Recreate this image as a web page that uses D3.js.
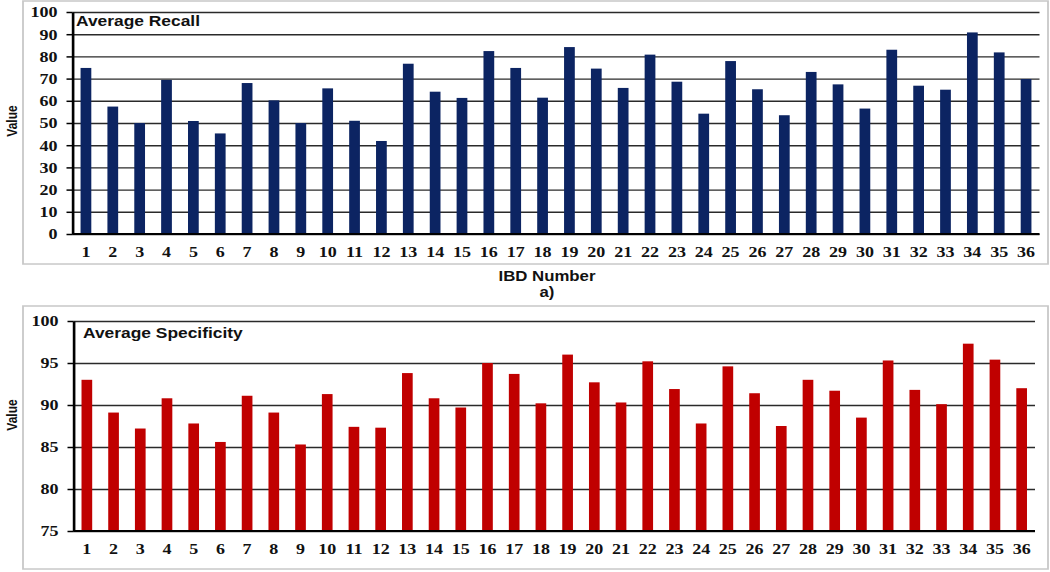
<!DOCTYPE html>
<html><head><meta charset="utf-8">
<script src="https://cdn.jsdelivr.net/npm/d3@7/dist/d3.min.js"></script>
<style>body{margin:0;background:#fff}svg{display:block}</style>
</head><body><svg id="c" width="1050" height="572"></svg>
<script>
// ---- data ----
const ibdNumbers = ["1","2","3","4","5","6","7","8","9","10","11","12","13","14","15","16","17","18",
  "19","20","21","22","23","24","25","26","27","28","29","30","31","32","33","34","35","36"];
const averageRecall = [74.8,57.4,50,69.4,50.9,45.3,68,60.2,50,65.6,51,41.9,76.7,64.1,61.3,82.4,74.8,61.4,
  84.2,74.5,65.8,80.8,68.6,54.2,77.9,65.2,53.5,73,67.4,56.5,83,66.8,65,90.8,81.8,69.8];
const averageSpecificity = [93.0,89.1,87.2,90.8,87.8,85.6,91.1,89.1,85.3,91.3,87.4,87.3,93.8,90.8,89.7,95.0,93.7,90.2,
  96.0,92.7,90.3,95.2,91.9,87.8,94.6,91.4,87.5,93.0,91.7,88.5,95.3,91.8,90.1,97.3,95.4,92.0];
const recallTicks = [0,10,20,30,40,50,60,70,80,90,100];
const specificityTicks = [75,80,85,90,95,100];

// ---- drawing ----
const SX = 1.2; // horizontal stretch of the original picture
const ix = v => v / SX;
const svg = d3.select("#c");
const g = svg.append("g").attr("transform", `scale(${SX},1)`);

function panel(o) {
  const p = g.append("g");
  // outer box
  p.append("rect").attr("x", ix(o.box[0])).attr("y", o.box[1])
    .attr("width", ix(o.box[2]-o.box[0])).attr("height", o.box[3]-o.box[1])
    .attr("fill", "#fff").attr("stroke", "#c8c8c8").attr("stroke-width", 1.5);

  const x = d3.scaleBand().domain(ibdNumbers).range([ix(o.x0), ix(o.x1)])
    .paddingInner(0.6).paddingOuter(0.3);
  const y = d3.scaleLinear().domain(o.domain).range([o.yb, o.yt]);
  const w = ix(o.x1) - ix(o.x0);

  // gridlines
  const grid = p.append("g").attr("transform", `translate(${ix(o.x0)},0)`)
    .call(d3.axisLeft(y).tickValues(o.ticks).tickSize(-w).tickFormat(""));
  grid.select(".domain").remove();
  grid.selectAll("line").attr("stroke", "#2a2a2a").attr("stroke-width", 1.4);

  // bars
  p.append("g").selectAll("rect").data(o.values).join("rect")
    .attr("x", (d, i) => x(ibdNumbers[i]))
    .attr("width", x.bandwidth())
    .attr("y", d => y(d))
    .attr("height", d => y(o.domain[0]) - y(d))
    .attr("fill", o.color);

  // y axis with labels
  const ya = p.append("g").attr("transform", `translate(${ix(o.x0)},0)`)
    .call(d3.axisLeft(y).tickValues(o.ticks).tickSize(ix(6)).tickPadding(ix(9)).tickSizeOuter(0));
  ya.select(".domain").attr("stroke", "#000").attr("stroke-width", 2.2);
  ya.selectAll("line").attr("stroke", "#000").attr("stroke-width", 1.5);
  ya.selectAll("text").attr("font-family", "'Liberation Serif', 'Times New Roman', serif")
    .attr("font-weight", "bold").attr("font-size", 15).attr("fill", "#111");

  // x axis baseline
  p.append("line").attr("x1", ix(o.x0)).attr("x2", ix(o.x1))
    .attr("y1", y(o.domain[0])).attr("y2", y(o.domain[0]))
    .attr("stroke", "#000").attr("stroke-width", 2.2);

  const xa = p.append("g").attr("transform", `translate(0,${y(o.domain[0])})`)
    .call(d3.axisBottom(x).tickSize(0).tickPadding(12));
  xa.select(".domain").remove();
  xa.selectAll("text").attr("font-family", "'Liberation Serif', 'Times New Roman', serif")
    .attr("font-weight", "bold").attr("font-size", 15).attr("fill", "#111");

  // title inside plot
  p.append("text").attr("x", ix(o.titleX)).attr("y", o.titleY)
    .attr("font-family", "'Liberation Sans', Arial, sans-serif").attr("font-weight", "bold")
    .attr("font-size", 14.5).attr("fill", "#111").text(o.title);

  // y axis label
  p.append("text").attr("transform", `translate(${ix(17)},${o.vy}) rotate(-90)`)
    .attr("text-anchor", "middle")
    .attr("font-family", "'Liberation Sans', Arial, sans-serif").attr("font-weight", "bold")
    .attr("font-size", 12).attr("fill", "#111").text("Value");
  return {x, y};
}

panel({box:[23,1,1048,264], x0:72.5, x1:1039.5, yt:12, yb:234, domain:[0,100], ticks:recallTicks,
  values:averageRecall, color:"#0c2462", title:"Average Recall", titleX:76, titleY:26, vy:121});
panel({box:[23,306,1048,569], x0:73.5, x1:1035, yt:321, yb:531, domain:[75,100], ticks:specificityTicks,
  values:averageSpecificity, color:"#c00000", title:"Average Specificity", titleX:83, titleY:338, vy:415});

// x axis title and caption for panel a
g.append("text").attr("x", ix(547)).attr("y", 281).attr("text-anchor", "middle")
  .attr("font-family", "'Liberation Sans', Arial, sans-serif").attr("font-weight", "bold")
  .attr("font-size", 14).attr("fill", "#111").text("IBD Number");
g.append("text").attr("x", ix(547)).attr("y", 297).attr("text-anchor", "middle")
  .attr("font-family", "'Liberation Sans', Arial, sans-serif").attr("font-weight", "bold")
  .attr("font-size", 14).attr("fill", "#111").text("a)");
</script></body></html>
